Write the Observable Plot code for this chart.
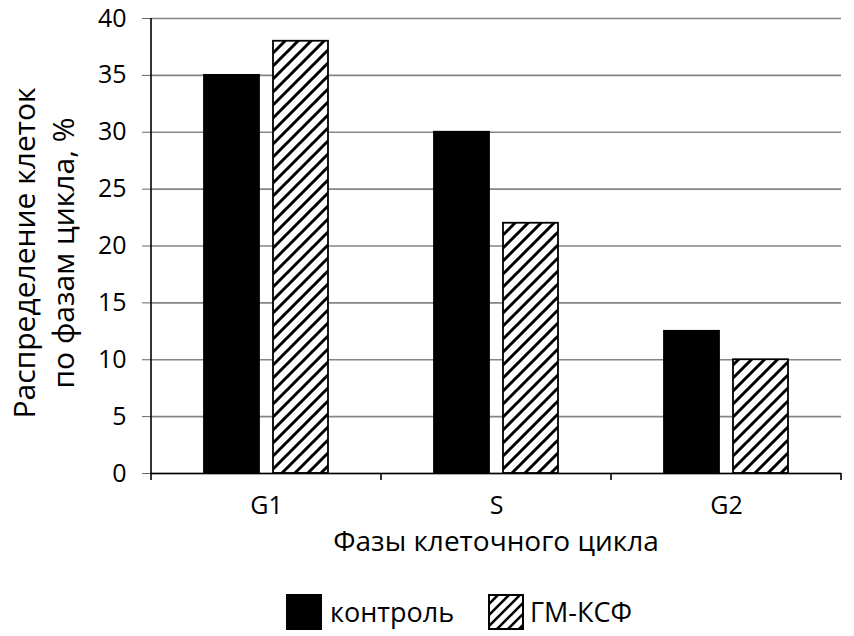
<!DOCTYPE html>
<html>
<head>
<meta charset="utf-8">
<script src="https://cdn.jsdelivr.net/npm/d3@7"></script>
<script src="https://cdn.jsdelivr.net/npm/@observablehq/plot@0.6"></script>
<style>
  body { margin: 0; background: #fff; font-family: "Open Sans", sans-serif; }
  #wrap { position: relative; width: 854px; height: 636px; }
  #legend { position: absolute; left: 0; top: 580px; width: 854px; height: 56px; }
  .item { position: absolute; top: 13px; display: flex; align-items: center; font-size: 27px; color: #000; }
</style>
</head>
<body>
<div id="wrap">
  <div id="chart"></div>
  <div id="legend"></div>
</div>
<script>
const phases = ["G1", "S", "G2"];
const series = ["контроль", "ГМ-КСФ"];
const controlValues = [35, 30, 12.5];
const gmcsfValues = [38, 22, 10];
const yTicks = [0, 5, 10, 15, 20, 25, 30, 35, 40];
const xTitle = "Фазы клеточного цикла";
const yTitle = ["Распределение клеток", "по фазам цикла, %"];

const data = [];
phases.forEach((p, i) => {
  data.push({phase: p, series: series[0], value: controlValues[i]});
  data.push({phase: p, series: series[1], value: gmcsfValues[i]});
});

const font = "Open Sans, sans-serif";
const P = 13; // hatch period
const hatchPath = `M${-P/4},${P/4} L${P/4},${-P/4} M0,${P} L${P},0 M${P*3/4},${P*5/4} L${P*5/4},${P*3/4}`;

const plot = Plot.plot({
  width: 854,
  height: 580,
  marginLeft: 150,
  marginRight: 12,
  marginTop: 18,
  marginBottom: 107,
  style: {fontFamily: font, fontSize: "25px", color: "#000", background: "#fff"},
  fx: {domain: phases, padding: 0, label: null},
  x: {domain: series, paddingInner: 0.2, paddingOuter: 0.743, axis: null},
  y: {domain: [0, 40], label: null},
  marks: [
    Plot.ruleY(yTicks, {stroke: "#858585", strokeWidth: 1.6}),
    Plot.barY(data, {
      fx: "phase", x: "series", y: "value",
      fill: d => d.series === series[0] ? "#000" : "url(#hatch)",
      stroke: "#000", strokeWidth: 1.8
    }),
    Plot.axisY({ticks: yTicks, tickSize: 9, tickPadding: 16, fontSize: 25, stroke: "#666", label: null}),
    Plot.axisFx({anchor: "bottom", tickSize: 0, tickPadding: 23, fontSize: 25, label: null}),
    Plot.ruleY([0], {stroke: "#000", strokeWidth: 1.6})
  ]
});

document.getElementById("chart").appendChild(plot);

const svg = d3.select(plot);
// hatch pattern
const defs = svg.insert("defs", ":first-child");
const pat = defs.append("pattern")
  .attr("id", "hatch").attr("patternUnits", "userSpaceOnUse")
  .attr("width", P).attr("height", P);
pat.append("rect").attr("width", P).attr("height", P).attr("fill", "#fff");
pat.append("path").attr("d", hatchPath)
  .attr("stroke", "#000").attr("stroke-width", 3);

// y axis line & category boundary ticks from library scales
const fxs = plot.scale("fx");
const ys = plot.scale("y");
const y0 = ys.apply(0), y40 = ys.apply(40);
const g = svg.append("g").attr("stroke", "#000").attr("stroke-width", 1.6);
const left = fxs.apply(phases[0]);
g.append("line").attr("x1", left).attr("x2", left).attr("y1", y40).attr("y2", y0 + 7);
phases.forEach(p => {
  const xb = fxs.apply(p) + fxs.bandwidth;
  g.append("line").attr("x1", xb).attr("x2", xb).attr("y1", y0).attr("y2", y0 + 7);
});

// titles
const cx = (fxs.apply(phases[0]) + fxs.apply(phases[phases.length - 1]) + fxs.bandwidth) / 2;
svg.append("text").attr("x", cx).attr("y", 551).attr("text-anchor", "middle")
  .attr("font-family", font).attr("font-size", 28).attr("fill", "#000").text(xTitle);
const ym = 253;
const yt = svg.append("text").attr("transform", `translate(0,${ym}) rotate(-90)`)
  .attr("text-anchor", "middle").attr("font-family", font).attr("font-size", 30).attr("fill", "#000");
yt.append("tspan").attr("x", 0).attr("y", 35).text(yTitle[0]);
yt.append("tspan").attr("x", 0).attr("y", 74).text(yTitle[1]);

// legend
const legend = document.getElementById("legend");
const items = [
  {label: series[0], left: 286, hatch: false},
  {label: series[1], left: 488, hatch: true}
];
const LP = 11;
const lpath = `M${-LP/4},${LP/4} L${LP/4},${-LP/4} M0,${LP} L${LP},0 M${LP*3/4},${LP*5/4} L${LP*5/4},${LP*3/4}`;
items.forEach(it => {
  const div = document.createElement("div");
  div.className = "item";
  div.style.left = it.left + "px";
  const sw = document.createElementNS("http://www.w3.org/2000/svg", "svg");
  sw.setAttribute("width", 36); sw.setAttribute("height", 36);
  sw.style.marginRight = it.hatch ? "6px" : "8px";
  sw.innerHTML = it.hatch
    ? `<defs><pattern id="lh" patternUnits="userSpaceOnUse" width="${LP}" height="${LP}"><rect width="${LP}" height="${LP}" fill="#fff"/><path d="${lpath}" stroke="#000" stroke-width="2.6"/></pattern></defs><rect x="1" y="1" width="34" height="34" fill="url(#lh)" stroke="#000" stroke-width="2"/>`
    : `<rect x="0" y="0" width="36" height="36" fill="#000"/>`;
  div.appendChild(sw);
  const sp = document.createElement("span");
  sp.textContent = it.label;
  div.appendChild(sp);
  legend.appendChild(div);
});
</script>
</body>
</html>
